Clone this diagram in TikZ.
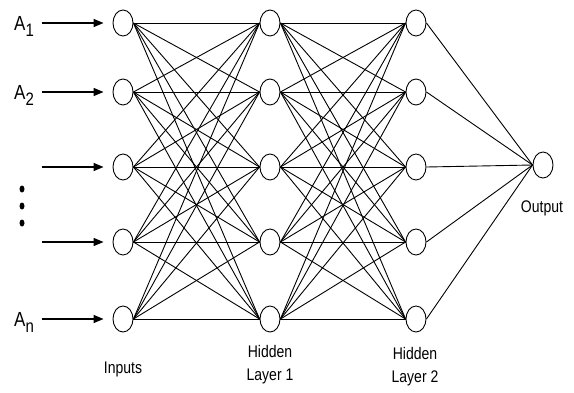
\documentclass[tikz,border=0pt]{standalone}
\usepackage{fontspec}
\setmainfont{Liberation Sans}
\usetikzlibrary{arrows.meta, shapes.geometric}

\begin{document}
\begin{tikzpicture}[x=1pt, y=-1pt,
    every node/.style={font=\fontsize{14}{19}\selectfont},
    unit/.style={draw, line width=0.9pt, ellipse, minimum width=20pt, minimum height=26pt, inner sep=0pt},
    link/.style={line width=0.9pt},
    feed/.style={line width=1.3pt, -{Triangle[length=10pt,width=8pt]}, shorten >=9pt},
    tag/.style={yscale=1.2, transform shape, align=center, inner sep=0pt},
    sub/.style={tag, font=\fontsize{17}{17}\selectfont}]

\useasboundingbox (0,0) rectangle (574,392);

% Units: input, hidden 1, hidden 2
\foreach \i/\y in {1/23, 2/92, 3/167, 4/242, 5/319} {
  \node[unit] (in\i) at (123,\y) {};
  \node[unit] (ha\i) at (270,\y) {};
  \node[unit] (hb\i) at (416,\y) {};
  \coordinate (src\i) at (42,\y);
}
\node[unit] (out) at (543,165) {};

% Full connections
\foreach \i in {1,...,5} {
  \foreach \j in {1,...,5} {
    \draw[link] (in\i.east) -- (ha\j.west);
    \draw[link] (ha\i.east) -- (hb\j.west);
  }
  \draw[link] (hb\i.east) -- (out.west);
}

% Input arrows
\foreach \i in {1,...,5}
  \draw[feed] (src\i) -- (in\i.west);

% Input labels
\node[sub, anchor=base west] (a1) at (14,30) {A\raisebox{-5pt}{\fontsize{15}{15}\selectfont 1}};
\node[sub, anchor=base west] (a2) at (14,99) {A\raisebox{-5pt}{\fontsize{15}{15}\selectfont 2}};
\node[sub, anchor=base west] (an) at (14,326) {A\raisebox{-5pt}{\fontsize{15}{15}\selectfont n}};

% Dots
\foreach \y [count=\k] in {189, 206, 223}
  \node[fill, ellipse, minimum width=5pt, minimum height=7pt, inner sep=0pt] (dot\k) at (22,\y) {};

% Layer names
\node[tag, anchor=base] (lin) at (123,373) {Inputs};
\node[tag] (lha) at (270,365) {Hidden\\Layer 1};
\node[tag] (lhb) at (415,367) {Hidden\\Layer 2};
\node[tag, anchor=base] (lout) at (542,212) {Output};

\end{tikzpicture}
\end{document}
